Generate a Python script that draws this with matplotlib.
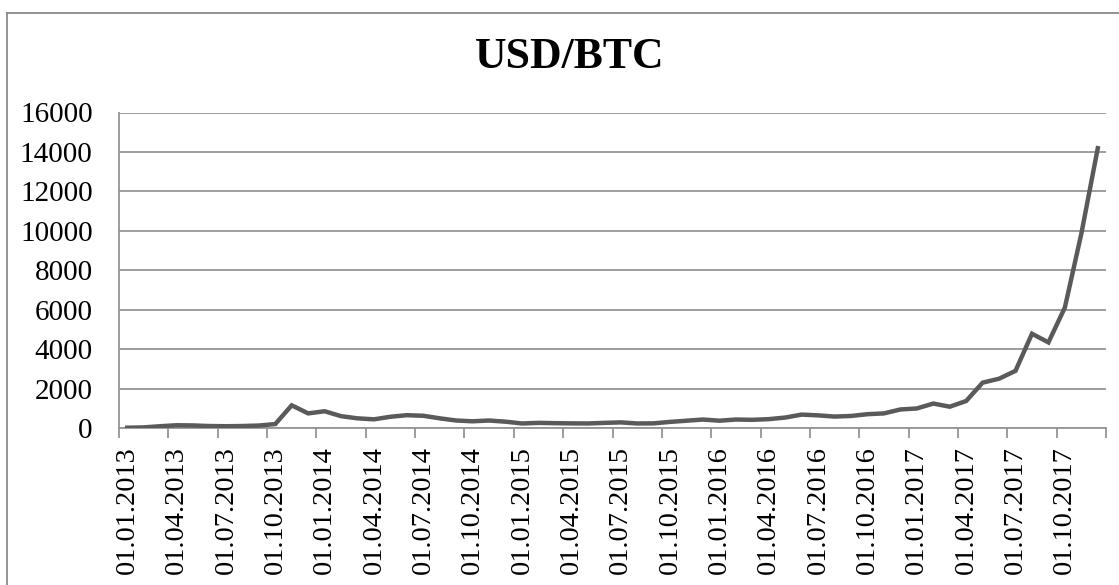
# USD/BTC monthly price chart, 2013-2017
import matplotlib
matplotlib.use('Agg')
import numpy as np
import matplotlib.pyplot as plt
from matplotlib.lines import Line2D

# monthly values (01.2013 .. 12.2017)
months = ['%02d.%d' % (m, y) for y in range(2013, 2018) for m in range(1, 13)]
prices = [
    15, 30, 90, 140, 130, 100, 90, 100, 125, 200, 1150, 740,
    850, 600, 490, 440, 570, 650, 620, 490, 380, 340, 380, 320,
    230, 260, 245, 235, 230, 260, 285, 230, 235, 310, 370, 430,
    370, 430, 415, 450, 530, 680, 640, 580, 610, 700, 740, 940,
    990, 1240, 1080, 1370, 2300, 2500, 2900, 4780, 4340, 6110, 9850, 14190,
]
tick_labels = ['01.' + m for m in months]

line_col = '#5a5a5a'
grid_col = '#959595'

plt.rcParams['font.family'] = ['Liberation Serif', 'DejaVu Serif']

fig = plt.figure(figsize=(11.19, 5.85), dpi=100)
ax = fig.add_axes([119 / 1119, 1 - 428 / 585, (1106 - 119) / 1119, (428 - 112.5) / 585])

x = np.arange(len(prices))
ax.plot(x, prices, color=line_col, lw=3.2, solid_joinstyle='miter', zorder=3)

ax.set_xlim(-0.5, len(prices) - 0.5)
ax.set_ylim(0, 16000)
ax.set_yticks(np.arange(0, 16001, 2000))
ax.tick_params(axis='y', length=0, pad=19, labelsize=21)
ax.grid(axis='y', color=grid_col, lw=1.3)
ax.set_axisbelow(True)

# ticks on category boundaries, labels on every 3rd category centre
ax.set_xticks(np.arange(-0.5, len(prices), 3))
ax.set_xticklabels([])
ax.tick_params(axis='x', which='major', length=7, width=1.3, color=grid_col, direction='out')
ax.set_xticks(x[::3], minor=True)
ax.set_xticklabels(tick_labels[::3], minor=True, rotation=90, fontsize=20.5)
ax.tick_params(axis='x', which='minor', length=0, pad=13)

for s in ['top', 'right']:
    ax.spines[s].set_visible(False)
for s in ['left', 'bottom']:
    ax.spines[s].set_color(grid_col)
    ax.spines[s].set_linewidth(1.3)

fig.text(570 / 1119, 1 - 57 / 585, 'USD/BTC', ha='center', va='center',
         fontsize=31.5, fontweight='bold')

# outer chart frame (cut off at right and bottom)
bx, by = 7 / 1119, 1 - 13 / 585
fig.add_artist(Line2D([bx, bx], [-0.1, by], color='#8a8a8a', lw=1.3))
fig.add_artist(Line2D([bx, 1.1], [by, by], color='#8a8a8a', lw=1.3))

fig.savefig('out.png', dpi=100)
